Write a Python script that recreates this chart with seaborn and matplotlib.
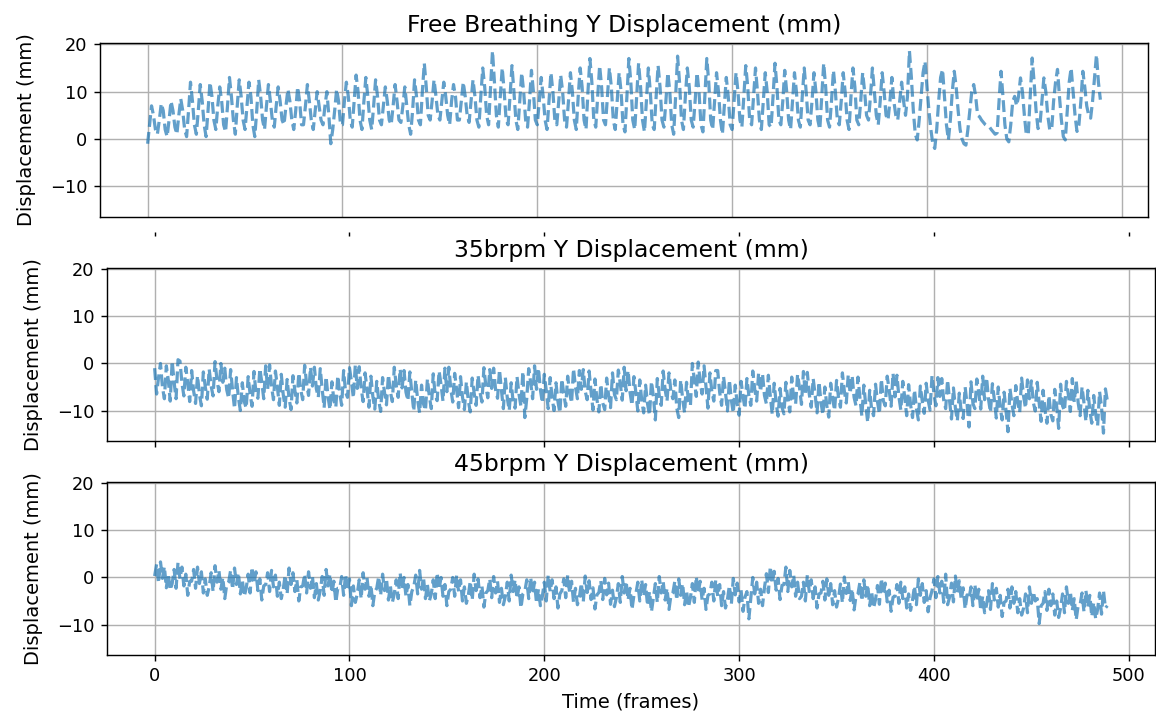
import matplotlib
matplotlib.use("Agg")
import matplotlib.pyplot as plt
import seaborn as sns
import numpy as np

# Y displacement per frame (mm)
fb_y = [
    -1, 3, 7, 5, 2, 1, 4, 7.5, 6, 2, 0.5, 4, 8, 6, 2.5, 1, 5, 8.5, 6, 2,
    0.5, 6, 12, 8, 3, 1, 6, 11.5, 8, 3, 0.5, 6, 12, 9, 4, 2, 7, 11, 8, 3,
    1.5, 7, 13, 9, 4, 1, 7, 12.5, 9, 4, 2, 7, 12, 9, 3, 0.5, 6, 12.5, 9, 4,
    2, 7, 11.5, 8, 4, 2.5, 7, 11, 8, 4, 3, 7, 10.5, 8, 4, 2, 6, 11, 8, 3,
    3, 7, 11.5, 8, 4, 2, 6, 10, 7, 4, 3, 7, 10, 5, -1, 2, 6, 10.5, 8, 3,
    3, 8, 12, 9, 4, 2.5, 8, 13.5, 10, 4, 2, 8, 13, 9, 4, 2, 7, 12.5, 9, 4,
    3, 7, 11, 8, 4, 3, 7, 11.5, 8, 4, 3.5, 7, 11, 7, 3, 1, 6, 12.5, 9, 4,
    3, 10, 16, 11, 5, 4, 8, 12.5, 9, 5, 4, 8, 12, 9, 5, 3, 8, 11.5, 9, 4,
    4, 8, 12, 9, 5, 3.5, 8, 12.5, 9, 4, 2.5, 9, 15, 11, 5, 3, 11, 18.6, 12, 5,
    2.5, 9, 15, 10, 4, 3, 9, 15.5, 10, 4, 2, 8, 14, 10, 4, 2.5, 8, 14.5, 10, 4,
    3, 8, 13, 9, 4, 2, 8, 14, 10, 4, 3, 8, 13.5, 10, 4, 2.5, 8, 14, 10, 4,
    2, 9, 15, 11, 4, 2, 10, 17, 12, 4, 2.5, 9, 15.5, 11, 4, 3, 9, 15, 11, 4,
    2, 8, 14, 10, 3, 1.5, 9, 17, 12, 4, 2, 9, 16, 11, 4, 1.5, 8, 15, 10, 3,
    2, 9, 15.5, 11, 4, 2.5, 8, 14, 10, 3, 1, 9, 17.5, 12, 4, 2, 9, 15, 11, 4,
    2.5, 8, 14, 10, 3, 1.5, 9, 17, 12, 4, 2, 8, 14, 10, 4, 1, 7, 13, 9, 3,
    2, 8, 14, 10, 4, 2.5, 9, 15.5, 11, 4, 3, 9, 15, 10, 4, 2, 8, 14, 10, 3,
    2.5, 9, 16, 11, 4, 3, 8, 14.5, 10, 4, 2, 8, 14, 10, 4, 2.5, 9, 15, 10, 4,
    3, 8, 14, 10, 4, 2, 9, 16, 11, 4, 2.5, 8, 14.5, 10, 4, 3, 8, 14, 10, 4,
    2, 9, 15, 11, 4, 3, 8, 14, 10, 5, 4, 9, 15, 10, 5, 3, 8, 14, 10, 5,
    4, 8, 13, 8, 5, 4, 8, 12, 8, 5,
    9, 18.6, 13, 6, 1, -0.2, 4, 9, 14, 16.4,
    11, 6, 2, -1, -2, 2, 8, 13, 14.7, 9,
    3, -0.2, 4, 10, 14.3, 11, 6, 2, 0, -1,
    -1.3, 2, 6, 10, 11.5, 9, 5, 4.7, 4, 3.5,
    3, 2.7, 2.6, 2, 1.5, 1, 1.3, 8, 14.3, 9,
    3, 0, -0.6, 3, 7.9, 9, 7, 9, 12.9, 10,
    5, 0.9, 1, 9, 17.1, 12, 6, 2.2, 3, 8,
    12.9, 10, 5, 2, 1.9, 8, 12, 14.7, 9, 4,
    0.5, -0.2, 6, 12, 15, 10, 5, 1.6, 3, 8,
    14.3, 11, 7, 5, 4.4, 8, 13, 17.8, 12, 8.3,
]

brpm35_y = [
    -1, -6.5, -3, 0, -5, -7.5, -0.5, -3.5, -8, 0.5, -4, -7.5, 0.8,
    0.5, -4.1, -6.9, -0.8, -4.2, -8.1, -1.5, -5.8, -8.5, -2.6, -6.6, -9, -1.8, -5, -7.6, -1.2, -4.8, -6.9, 0.4, -3.5, -6, 0, -4,
    -1, -5.6, -7.4, -1.3, -5.7, -9.6, -3, -7.3, -10, -4.1, -8.1, -9.5, -2.8, -6.5, -9.1, -1.7, -6.3, -7.4, -1.1, -4, -7.5, -0.5, -5.5,
    -0.3, -4.9, -7.7, -1.6, -5, -8.9, -2.3, -6.6, -9.3, -3.4, -7.4, -9.8, -2.6, -5.8, -8.4, -2, -5.6, -7.7, -0.4, -4.3, -6.8, -0.8, -4.8,
    -0.8, -5.4, -7.2, -1.1, -5.5, -9.4, -2.8, -7.1, -9.8, -3.9, -7.9, -9.3, -2.6, -6.3, -8.9, -1.5, -6.1, -7.2, -0.9, -3.8, -7.3, -0.3, -5.3,
    -0.7, -5.3, -8.1, -2, -5.4, -9.3, -2.7, -7, -9.7, -3.8, -7.8, -10.2, -3, -6.2, -8.8, -2.4, -6, -8.1, -0.8, -4.7, -7.2, -1.2, -5.2,
    -1.5, -6.1, -7.9, -1.8, -6.2, -10.1, -3.5, -7.8, -10.5, -4.6, -8.6, -10, -3.3, -7, -9.6, -2.2, -6.8, -7.9, -1.6, -4.5, -8, -1, -6,
    -0.8, -5.4, -8.2, -2.1, -5.5, -9.4, -2.8, -7.1, -9.8, -3.9, -7.9, -10.3, -3.1, -6.3, -8.9, -2.5, -6.1, -8.2, -0.9, -4.8, -7.3, -1.3, -5.3,
    -1, -5.6, -7.4, -1.3, -5.7, -9.6, -3, -7.3, -10, -4.1, -8.1, -9.5, -2.8, -6.5, -9.1, -1.7, -11.5, -7.4, -1.1, -4, -7.5, -0.5, -5.5,
    -1, -5.6, -8.4, -2.3, -5.7, -9.6, -3, -7.3, -10, -4.1, -8.1, -10.5, -3.3, -6.5, -9.1, -2.7, -6.3, -8.4, -1.1, -5, -7.5, -1.5, -5.5,
    -1.3, -5.9, -7.7, -1.6, -6, -9.9, -3.3, -7.6, -10.3, -4.4, -8.4, -9.8, -3.1, -6.8, -9.4, -2, -6.6, -7.7, -1.4, -4.3, -7.8, -0.8, -5.8,
    -1.5, -6.1, -8.9, -2.8, -6.2, -10.1, -3.5, -7.8, -10.5, -4.6, -8.6, -11, -3.8, -7, -12, -3.2, -6.8, -8.9, -1.6, -5.5, -8, -2, -6,
    -7.5, -3.5, -9.5, -11.5, -3.5, -7.5, -10.5, -4, -8, -9, 0, -3.5, -7, 0.3, -4, -6.5, -0.5, -5, -9.5, -2, -6, -8, -1.5,
    -1.5, -6.1, -8.9, -2.8, -6.2, -10.1, -3.5, -7.8, -10.5, -4.6, -8.6, -11, -3.8, -7, -9.6, -3.2, -6.8, -8.9, -1.6, -5.5, -8, -2, -6,
    -2.2, -6.8, -8.6, -2.5, -6.9, -10.8, -4.2, -8.5, -11.2, -5.3, -9.3, -10.7, -4, -7.7, -10.3, -2.9, -7.5, -8.6, -2.3, -5.2, -8.7, -1.7, -6.7,
    -1.9, -6.5, -9.3, -3.2, -6.6, -10.5, -3.9, -8.2, -10.9, -5, -9, -11.4, -4.2, -7.4, -10, -3.6, -7.2, -9.3, -2, -5.9, -8.4, -2.4, -6.4,
    -2.6, -7.2, -9, -2.9, -7.3, -11.2, -4.6, -8.9, -12.5, -5.7, -9.7, -11.1, -4.4, -8.1, -10.7, -3.3, -7.9, -9, -2.7, -5.6, -9.1, -2.1, -7.1,
    -2.5, -7.1, -9.9, -3.8, -7.2, -11.1, -4.5, -8.8, -11.5, -5.6, -9.6, -12, -4.8, -8, -10.6, -4.2, -7.8, -9.9, -2.6, -6.5, -9, -3, -7,
    -3.2, -7.8, -9.6, -3.5, -7.9, -11.8, -5.2, -9.5, -12.2, -6.3, -10.3, -11.7, -5, -8.7, -13.5, -3.9, -8.5, -9.6, -3.3, -6.2, -9.7, -2.7, -7.7,
    -3, -7.6, -10.4, -4.3, -7.7, -11.6, -5, -9.3, -12, -6.1, -10.1, -14.5, -5.3, -8.5, -11.1, -4.7, -8.3, -10.4, -3.1, -7, -9.5, -3.5, -7.5,
    -3.7, -8.3, -10.1, -4, -8.4, -12.3, -5.7, -10, -12.7, -6.8, -10.8, -12.2, -5.5, -9.2, -13.8, -4.4, -9, -10.1, -3.8, -6.7, -10.2, -3.2, -8.2,
    -3.7, -8.3, -11.1, -5, -8.4, -12.3, -5.7, -10, -12.7, -6.8, -10.8, -13.2, -6, -9.2, -14.8, -5.4, -8,
]

brpm45_y = [
    0.3, 2.8, -1.2, 3.3, -0.2, 2.3, -2.2, 0.8, -2.7,
    -1.3, 1.7, -2.3, 3.2, -0.3, 2.2, -1.8, 0.7, -3.8, -0.8,
    -0.8, 1.7, -2.3, 2.2, -1.3, 1.2, -3.3, -0.3, -3.8,
    -2, 1, -3, 2.5, -1, 1.5, -2.5, 0, -4.5, -1.5,
    -1, 1.5, -2.5, 2, -1.5, 1, -3.5, -0.5, -4,
    -2.3, 0.7, -3.3, 2.2, -1.3, 1.2, -2.8, -0.3, -4.8, -1.8,
    -1.5, 1, -3, 1.5, -2, 0.5, -4, -1, -4.5,
    -2.5, 0.5, -3.5, 2, -1.5, 1, -3, -0.5, -5, -2,
    -1.8, 0.7, -3.3, 1.2, -2.3, 0.2, -4.3, -1.3, -4.8,
    -2.8, 0.2, -3.8, 1.7, -1.8, 0.7, -3.3, -0.8, -5.3, -2.3,
    -2.3, 0.2, -3.8, 0.7, -2.8, -0.3, -6, -1.8, -5.3,
    -3.5, -0.5, -4.5, 1, -2.5, 0, -4, -1.5, -6, -3,
    -2.3, 0.2, -3.8, 0.7, -2.8, -0.3, -4.8, -1.8, -5.3,
    -3.5, -0.5, -4.5, 1, -2.5, 0, -4, -1.5, -6, -3,
    -2, 0.5, -3.5, 1.5, -2.5, 0, -4.5, -1.5, -5,
    -3.5, -0.5, -4.5, 1, -2.5, 0, -4, -1.5, -6, -3,
    -2.5, 0, -4, 0.5, -3, -0.5, -5, -2, -5.5,
    -3.8, -0.8, -4.8, 0.7, -2.8, -0.3, -4.3, -1.8, -6.3, -3.3,
    -2.8, -0.3, -4.3, 0.2, -3.3, -0.8, -5.3, -2.3, -5.8,
    -4, -1, -5, 0.5, -3, -0.5, -4.5, -2, -6.5, -3.5,
    -3, -0.5, -4.5, 0, -3.5, -1, -5.5, -2.5, -6,
    -4, -1, -5, 0.5, -3, -0.5, -4.5, -2, -6.5, -3.5,
    -2.8, -0.3, -4.3, 0.5, -3.3, -0.8, -5.3, -2.3, -5.8,
    -4.2, -1.2, -5.2, 0.3, -3.2, -0.7, -4.7, -2.2, -6.7, -3.7,
    -3.2, -0.7, -4.7, -0.2, -3.7, -1.2, -5.7, -2.7, -6.2,
    -4.3, -1.3, -5.3, 0.2, -3.3, -0.8, -4.8, -2.3, -6.8, -3.8,
    -3.5, -1, -5, -0.5, -4, -1.5, -6, -3, -7.3,
    -4.3, -1.3, -5.3, 0.2, -3.3, -0.8, -4.8, -2.3, -6.8, -3.8,
    -3.3, -0.8, -4.8, -0.3, -3.8, -1.3, -5.8, -2.8, -6.3,
    -4.3, -1.3, -5.3, 0.2, -3.3, -0.8, -4.8, -2.3, -6.8, -3.8,
    -3.5, -1, -5, -0.5, -4, -1.5, -6, -3, -6.5,
    -4.7, -1.7, -5.7, -0.2, -3.7, -1.2, -5.2, -2.7, -7.2, -4.2,
    -3, -8.8, -4.5, 0, -3.5, -1, -5.5, -2.5, -6,
    -2.2, 0.8, -3.2, 2.3, -1.2, 1.3, -2.7, -0.2, -4.7, -1.7,
    -1.5, 2.2, -3, 1.5, -2, 0.5, -4, -1, -4.5,
    -4, -1, -5, 0.5, -3, -0.5, -4.5, -2, -6.5, -3.5,
    -3.3, -0.8, -4.8, -0.3, -3.8, -1.3, -5.8, -2.8, -6.3,
    -4.4, -1.4, -5.4, 0.1, -3.4, -0.9, -4.9, -2.4, -6.9, -3.9,
    -3.5, -1, -5, -0.5, -4, -1.5, -6, -3, -6.5,
    -4.7, -1.7, -5.7, -0.2, -3.7, -1.2, -5.2, -2.7, -7.2, -4.2,
    -4, -1.5, -5.5, -1, -4.5, -2, -6.5, -3.5, -7,
    -4.8, -1.8, -5.8, -0.3, -3.8, -1.3, -5.3, -2.8, -7.3, -4.3,
    -2.8, -0.3, -4.3, 0.2, -3.3, -0.8, -5.3, 0.7, -5.8,
    -4.2, -1.2, -5.2, 0.3, -3.2, -0.7, -4.7, -2.2, -6.7, -3.7,
    -4.5, -2, -6, -1.5, -5, -2.5, -7, -4, -7.5,
    -5.8, -2.8, -6.8, -1.3, -4.8, -2.3, -6.3, -3.8, -8.3, -5.3,
    -5, -2.5, -6.5, -2, -5.5, -3, -7.5, -4.5, -8,
    -6.5, -3.5, -7.5, -2, -5.5, -3, -5, -4.5, -9.8, -6,
    -5.5, -3, -7, -2.5, -6, -3.5, -8, -5, -8.5,
    -6.5, -3.5, -7.5, -2, -5.5, -3, -7, -4.5, -9, -6,
    -5.8, -3.3, -7.3, -2.8, -6.3, -3.8, -8.3, -5.3, -8.8,
    -6.8, -3.3, -7.8, -2.8, -6.5, -6,
]

titles = ["Free Breathing Y Displacement (mm)",
          "35brpm Y Displacement (mm)",
          "45brpm Y Displacement (mm)"]
series = [fb_y, brpm35_y, brpm45_y]

W, H = 1156, 720
fig = plt.figure(figsize=(W / 128, H / 128), dpi=128)

# the top panel sits a few pixels off the other two in the reference
ax1 = fig.add_axes([100 / W, 1 - 217 / H, 1048 / W, 174 / H])
ax2 = fig.add_axes([107 / W, 1 - 441 / H, 1048 / W, 173 / H], sharex=ax1, sharey=ax1)
ax3 = fig.add_axes([107 / W, 1 - 655 / H, 1048 / W, 173 / H], sharex=ax1, sharey=ax1)
axes = [ax1, ax2, ax3]

for ax, y, title in zip(axes, series, titles):
    frames = np.arange(len(y))
    sns.lineplot(x=frames, y=y, ax=ax, estimator=None, errorbar=None,
                 color="tab:blue", alpha=0.7, linestyle="--", linewidth=1.8)
    ax.set_title(title, fontsize=13.2)
    ax.set_ylabel("Displacement (mm)", fontsize=11, labelpad=8)
    ax.grid(True)

ax1.tick_params(axis="x", length=0, labelbottom=False)
ax2.tick_params(axis="x", labelbottom=False)
ax3.set_xlabel("Time (frames)", fontsize=11)
ax1.set_xticks([0, 100, 200, 300, 400, 500])
ax1.set_yticks([-10, 0, 10, 20])

# leftover tick marks under the top panel
axt = fig.add_axes([107 / W, 1 - 232 / H, 1048 / W, 0.0001])
axt.set_xlim(ax1.get_xlim())
axt.set_frame_on(False)
axt.yaxis.set_visible(False)
axt.set_xticks([0, 100, 200, 300, 400, 500])
axt.tick_params(axis="x", labelbottom=False, length=2)

fig.savefig("out.png", dpi=128)
